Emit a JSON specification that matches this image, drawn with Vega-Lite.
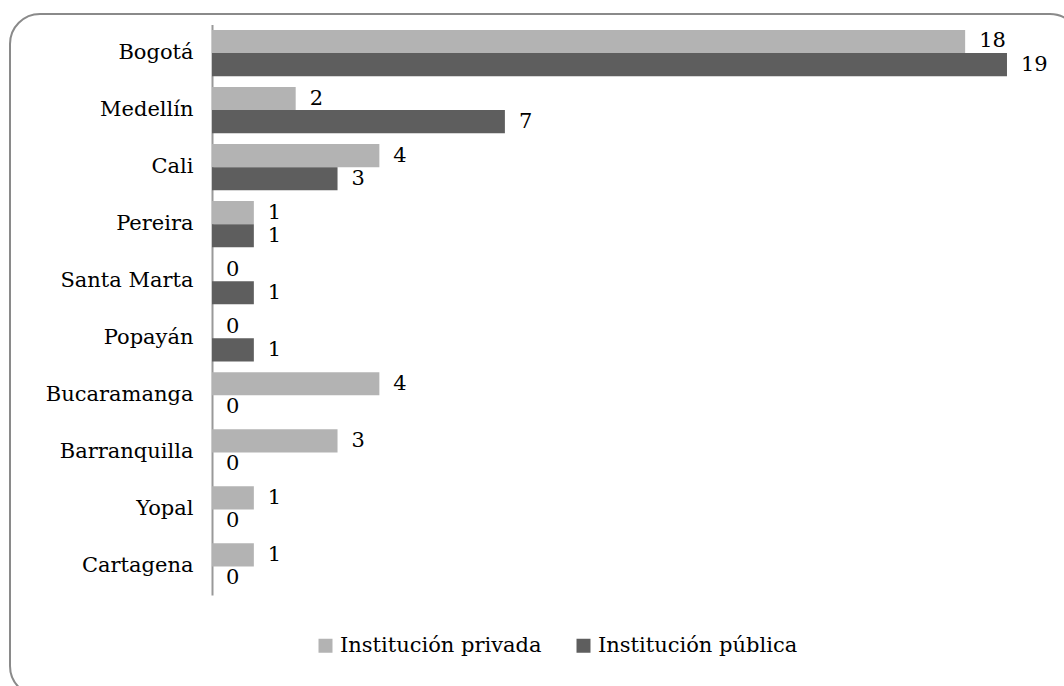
{
  "$schema": "https://vega.github.io/schema/vega-lite/v6.json",
  "autosize": {"type": "none"},
  "padding": {"left": 10, "top": 14, "right": -16, "bottom": -10},
  "width": 1070,
  "height": 682,
  "background": "white",
  "config": {
    "view": {"stroke": "#8a8a8a", "strokeWidth": 2, "cornerRadius": 30},
    "font": "DejaVu Serif"
  },
  "data": {
    "values": [
      {"city": "Bogotá", "serie": "Institución privada", "value": 18},
      {"city": "Bogotá", "serie": "Institución pública", "value": 19},
      {"city": "Medellín", "serie": "Institución privada", "value": 2},
      {"city": "Medellín", "serie": "Institución pública", "value": 7},
      {"city": "Cali", "serie": "Institución privada", "value": 4},
      {"city": "Cali", "serie": "Institución pública", "value": 3},
      {"city": "Pereira", "serie": "Institución privada", "value": 1},
      {"city": "Pereira", "serie": "Institución pública", "value": 1},
      {"city": "Santa Marta", "serie": "Institución privada", "value": 0},
      {"city": "Santa Marta", "serie": "Institución pública", "value": 1},
      {"city": "Popayán", "serie": "Institución privada", "value": 0},
      {"city": "Popayán", "serie": "Institución pública", "value": 1},
      {"city": "Bucaramanga", "serie": "Institución privada", "value": 4},
      {"city": "Bucaramanga", "serie": "Institución pública", "value": 0},
      {"city": "Barranquilla", "serie": "Institución privada", "value": 3},
      {"city": "Barranquilla", "serie": "Institución pública", "value": 0},
      {"city": "Yopal", "serie": "Institución privada", "value": 1},
      {"city": "Yopal", "serie": "Institución pública", "value": 0},
      {"city": "Cartagena", "serie": "Institución privada", "value": 1},
      {"city": "Cartagena", "serie": "Institución pública", "value": 0}
    ]
  },
  "encoding": {
    "y": {
      "field": "city",
      "type": "nominal",
      "sort": ["Bogotá", "Medellín", "Cali", "Pereira", "Santa Marta", "Popayán", "Bucaramanga", "Barranquilla", "Yopal", "Cartagena"],
      "scale": {"range": [10.5, 581], "paddingInner": 0.19, "paddingOuter": 0.095},
      "axis": {
        "title": null,
        "orient": "left",
        "offset": -202,
        "ticks": false,
        "domainColor": "#999999",
        "domainWidth": 2,
        "labelPadding": 19,
        "labelLimit": 0,
        "labelFont": "DejaVu Serif",
        "labelFontSize": 21,
        "labelColor": "#000000"
      }
    },
    "yOffset": {
      "field": "serie",
      "type": "nominal",
      "sort": ["Institución privada", "Institución pública"],
      "scale": {"paddingInner": 0, "paddingOuter": 0}
    },
    "x": {
      "field": "value",
      "type": "quantitative",
      "scale": {"domain": [-4.828, 20.745], "nice": false, "zero": false},
      "axis": null
    }
  },
  "layer": [
    {
      "mark": {"type": "bar"},
      "encoding": {
        "x2": {"datum": 0},
        "color": {
          "field": "serie",
          "type": "nominal",
          "scale": {"domain": ["Institución privada", "Institución pública"], "range": ["#b3b3b3", "#5e5e5e"]},
          "legend": {
            "title": null,
            "orient": "none",
            "direction": "horizontal",
            "legendX": 305,
            "legendY": 621,
            "padding": 0,
            "symbolType": "square",
            "symbolSize": 196,
            "symbolStrokeWidth": 0,
            "labelOffset": 4,
            "labelLimit": 0,
            "labelFont": "DejaVu Serif",
            "labelFontSize": 21,
            "labelColor": "#000000",
            "columnPadding": 31
          }
        }
      }
    },
    {
      "mark": {"type": "text", "align": "left", "baseline": "middle", "dx": 14, "font": "DejaVu Serif", "fontSize": 21, "color": "#000000"},
      "encoding": {
        "text": {"field": "value", "type": "quantitative"}
      }
    }
  ]
}
